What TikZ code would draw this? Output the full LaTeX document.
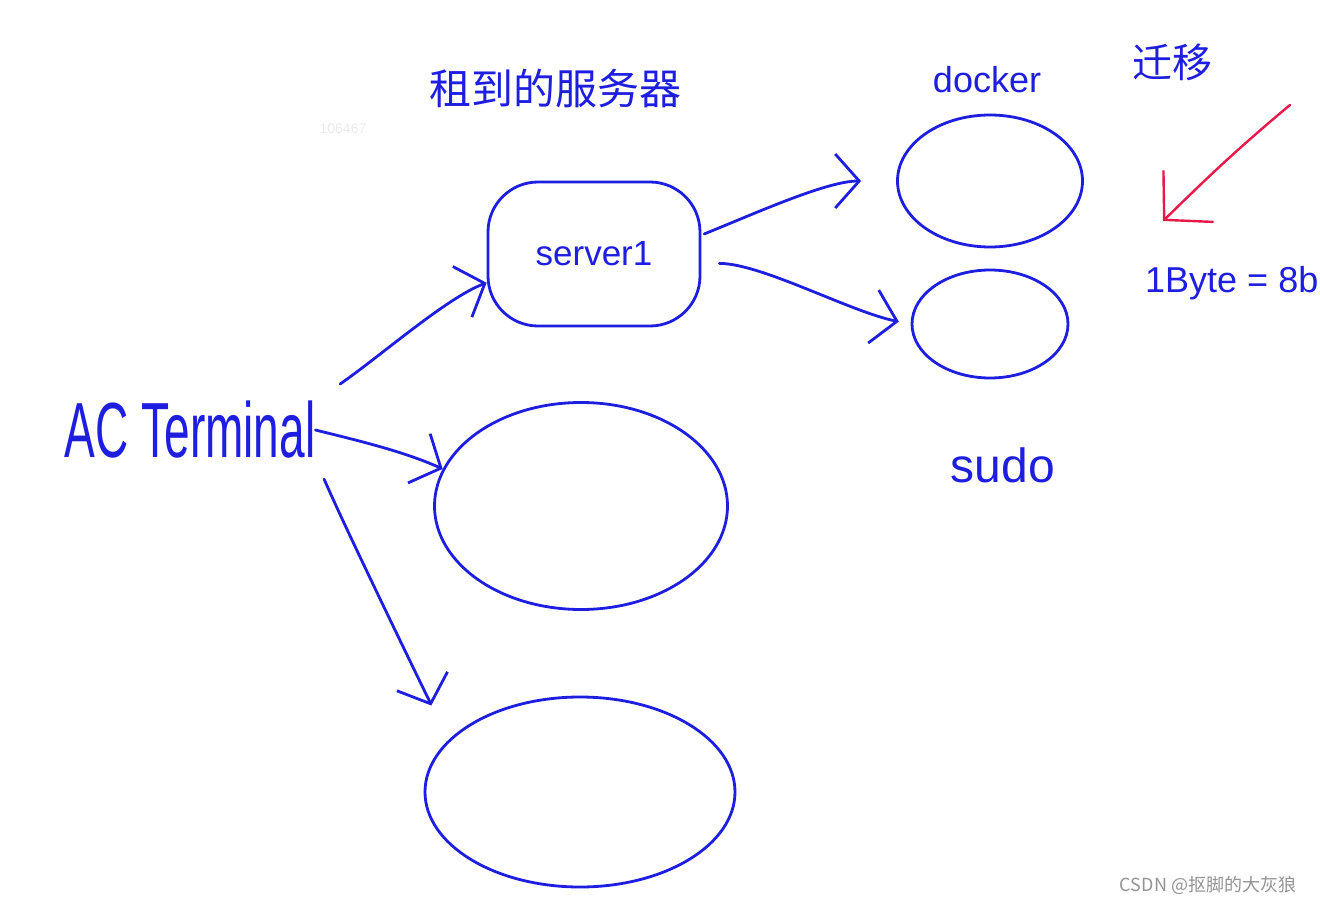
\documentclass[tikz,border=0pt]{standalone}
\usepackage{fontspec}
\usepackage{graphicx}
\setmainfont{Liberation Sans}
\newfontfamily\cjk{Noto Sans CJK SC}
\usetikzlibrary{shapes.geometric,arrows.meta}
\definecolor{inkblue}{RGB}{30,30,225}
\definecolor{inkred}{RGB}{232,24,72}
\tikzset{
	ink/.style={draw=inkblue, line width=2.8pt, line cap=round},
	blob/.style={ink, ellipse, inner sep=0pt},
	hand/.style={text=inkblue, inner sep=0pt},
	arr/.style={ink, -{Straight Barb[length=24pt,width=54pt]}}
}
\begin{document}
\begin{tikzpicture}[x=1pt,y=-1pt]
	\useasboundingbox[fill=white] (0,0) rectangle (1320,904);
	
	%Labels at the top
	\node[hand, font=\cjk\fontsize{42}{42}\selectfont] (title) at (555,88) {租到的服务器};
	\node[hand, font=\fontsize{36}{36}\selectfont] (dockerlbl) at (987,80) {docker};
	\node[hand, font=\cjk\fontsize{40}{40}\selectfont] (move) at (1172,62) {迁移};
	\node[text=black!8, font=\fontsize{14}{14}\selectfont] (mark) at (343,129) {106467};
	
	%Left side
	\node[hand, font=\fontsize{46}{46}\selectfont] (term) at (190,430) {\scalebox{1}[1.7]{AC Terminal}};
	
	%Servers
	\node[ink, rectangle, rounded corners=50pt, minimum width=212pt, minimum height=144pt,
		text=inkblue, font=\fontsize{35}{35}\selectfont] (srv) at (594,254) {server1};
	\node[blob, minimum width=293pt, minimum height=207pt] (mid) at (581,506) {};
	\node[blob, minimum width=310pt, minimum height=190pt] (bot) at (580,792) {};
	
	%Right side
	\node[blob, minimum width=185pt, minimum height=132pt] (dock) at (990,181) {};
	\node[blob, minimum width=156pt, minimum height=108pt] (sec) at (990,324) {};
	\node[hand, font=\fontsize{48}{48}\selectfont] (sudo) at (1003,465) {sudo};
	\node[hand, font=\fontsize{36}{36}\selectfont, anchor=west] (byte) at (1145,283) {1Byte = 8b};
	
	%Arrows
	\draw[arr, shorten <=30pt] (term.north east) .. controls +(65,-45) and +(-40,15) .. (srv.195);
	\draw[arr] (term.east) .. controls +(40,10) and +(-40,-18) .. (mid.165);
	\draw[arr, shorten <=22pt, shorten >=40pt] (term.south east) .. controls +(30,70) and +(-15,-40) .. (bot.160);
	\draw[arr, shorten <=3pt, shorten >=35pt] (srv.10) .. controls +(50,-20) and +(-70,0) .. (dock.west);
	\draw[arr, shorten <=18pt, shorten >=12pt] (srv.-5) .. controls +(60,0) and +(-60,-12) .. (sec.west);
	
	%Red arrow
	\coordinate (redA) at (1290,105);
	\coordinate (redB) at (1163,221);
	\draw[draw=inkred, line width=2.4pt, line cap=round, -{Straight Barb[length=34pt,width=72pt]}]
		(redA) .. controls (1230,155) and (1200,185) .. (redB);
	
	%Watermark
	\node[text=black!42, font=\cjk\fontsize{18}{18}\selectfont] (csdn) at (1208,885) {CSDN @抠脚的大灰狼};
\end{tikzpicture}
\end{document}
